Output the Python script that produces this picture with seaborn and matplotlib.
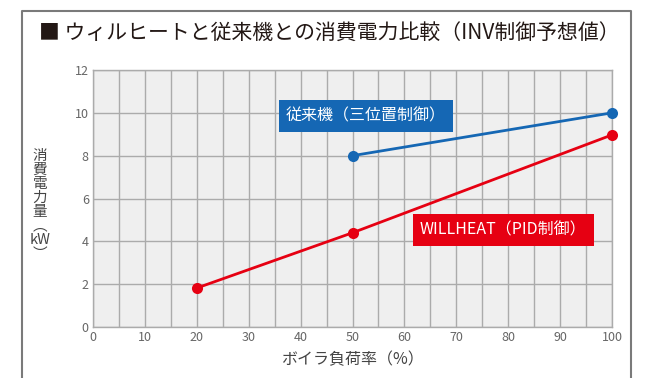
import matplotlib
matplotlib.use("Agg")
import matplotlib.pyplot as plt
import seaborn as sns
import pandas as pd
from matplotlib.lines import Line2D

# Data
load_conv = [50, 100]
power_conv = [8.0, 10.0]
load_will = [20, 50, 100]
power_will = [1.82, 4.4, 8.97]
series_conv = "従来機（三位置制御）"
series_will = "WILLHEAT（PID制御）"
x_ticks = [0, 10, 20, 30, 40, 50, 60, 70, 80, 90, 100]
y_ticks = [0, 2, 4, 6, 8, 10, 12]
title = "■ ウィルヒートと従来機との消費電力比較（INV制御予想値）"
xlabel = "ボイラ負荷率（%）"
ylabel = "消\n費\n電\n力\n量\n︵\nkW\n︶"

BLUE = "#1567b4"
RED = "#e60012"

sns.set_theme(style="white")
plt.rcParams['font.family'] = ['Noto Sans CJK JP', 'DejaVu Sans']

df = pd.concat([
    pd.DataFrame({"load": load_conv, "power": power_conv, "series": series_conv}),
    pd.DataFrame({"load": load_will, "power": power_will, "series": series_will}),
])

fig = plt.figure(figsize=(6.47, 3.78), dpi=100)
ax = fig.add_axes([93/647, 1-327/378, (612-93)/647, (327-70)/378])
ax.set_facecolor("#efefef")

sns.lineplot(data=df, x="load", y="power", hue="series",
             palette={series_conv: BLUE, series_will: RED},
             marker="o", markersize=8, markeredgewidth=0, linewidth=2,
             legend=False, ax=ax, clip_on=False, zorder=5)

ax.set_xlim(0, 100)
ax.set_ylim(0, 12)
ax.set_xticks(x_ticks)
ax.set_xticks(range(5, 100, 10), minor=True)
ax.set_yticks(y_ticks)
ax.grid(True, which="both", color="#ababab", linewidth=1)
ax.set_axisbelow(True)
for s in ax.spines.values():
    s.set_color("#ababab")
    s.set_linewidth(1)
ax.tick_params(which="both", length=0)
ax.tick_params(axis="both", labelsize=9, labelcolor="#666666", pad=3)
ax.set_xlabel(xlabel, fontsize=11.5, color="#444444", labelpad=5)
ax.set_ylabel("")

fig.text(40/647, 1-205/378, ylabel, fontsize=10.5, color="#444444",
         ha="center", va="center", linespacing=1.0)

fig.text(39/647, 1-34/378, title, fontsize=15, color="#231815",
         ha="left", va="center")

ax.text(52.6, 9.85, series_conv, fontsize=11.5, color="white", ha="center", va="center",
        bbox=dict(boxstyle="square,pad=0.45", facecolor=BLUE, edgecolor="none"), zorder=6)
ax.text(79, 4.53, series_will, fontsize=11.5, color="white", ha="center", va="center",
        bbox=dict(boxstyle="square,pad=0.45", facecolor=RED, edgecolor="none"), zorder=6)

# frame
fx = [22/647, 22/647, 631/647, 631/647]
fy = [0, 1-11/378, 1-11/378, 0]
fig.add_artist(Line2D(fx, fy, transform=fig.transFigure, color="#7a7a7a", linewidth=1.5))

fig.savefig("out.png", dpi=100)
